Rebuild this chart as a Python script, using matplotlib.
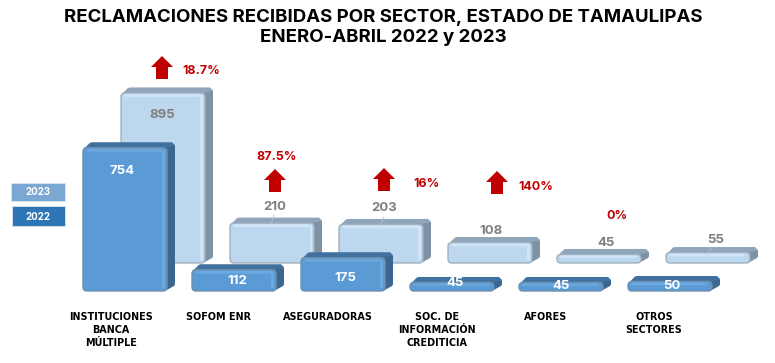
import matplotlib
matplotlib.use("Agg")
import matplotlib.pyplot as plt
from matplotlib.patches import FancyBboxPatch, Polygon, Rectangle
from matplotlib.transforms import Affine2D

plt.rcParams['font.family'] = ['Inter', 'DejaVu Sans']

W, H = 775, 363
title = "RECLAMACIONES RECIBIDAS POR SECTOR, ESTADO DE TAMAULIPAS\nENERO-ABRIL 2022 y 2023"
categories = ["INSTITUCIONES\nBANCA\nMÚLTIPLE", "SOFOM ENR", "ASEGURADORAS",
              "SOC. DE\nINFORMACIÓN\nCREDITICIA", "AFORES", "OTROS\nSECTORES"]
values_2022 = [754, 112, 175, 45, 45, 50]
values_2023 = [895, 210, 203, 108, 45, 55]
changes = ["18.7%", "87.5%", "16%", "140%", "0%", ""]

# layout (pixels from top-left)
px_t = Affine2D().scale(1, -1).translate(0, H)
X0, DX, Y0, PXV = 125, 109, 291, 0.19
BW, DEPX, DEPY = 84, 8, 5.5
SHIFT_X, SHIFT_Y = 38 / DX, 28 / PXV

lab_2022 = [(122, 171), (237, 281), (345, 278), (455, 283), (561, 286), (672, 286)]
lab_2023 = [(162, 115), (275, 207), (384, 208), (491, 231), (606, 243), (716, 240)]
lab_cat = [111, 219, 328, 437, 546, 654]
lab_pct = [(201, 71), (277, 157), (427, 184), (536, 187), (617, 216), None]
arrows = [(162, 56), (275, 169), (384, 168), (497, 171)]
leaders = [(274, 215, 271, 224), (384, 217, 380, 226), (712, 248, 706, 254)]

fig = plt.figure(figsize=(W / 100, H / 100), dpi=100)
ax = fig.add_axes([0, 0, 1, 1])
ax.set_xlim(-X0 / DX, (W - X0) / DX)
ax.set_ylim(-(H - Y0) / PXV, Y0 / PXV)
ax.axis("off")


def bar3d(i, v, dx, dy, face, hi, top, side, edge, z):
    (xl, yb) = ax.transData.transform((i + dx, dy))
    (_, yt) = ax.transData.transform((i + dx, dy + v))
    xl -= BW / 2
    xr = xl + BW
    h = yt - yb
    r = min(4, h / 2.2)
    kw = dict(transform=None, zorder=z)
    # depth faces
    ax.add_patch(Polygon([(xl + 1, yt - 1), (xl + DEPX - 1, yt + DEPY - 0.5), (xl + DEPX + 1, yt + DEPY),
                          (xr + DEPX - 3, yt + DEPY),
                          (xr + DEPX, yt + DEPY - 3), (xr, yt - 1)],
                         closed=True, fc=top, ec="none", **kw))
    ax.add_patch(Polygon([(xr - 2, yt), (xr + DEPX, yt + DEPY - 3), (xr + DEPX, yb + DEPY + 1),
                          (xr + DEPX - 1, yb + DEPY - 0.5), (xr - 2, yb)],
                         closed=True, fc=side, ec="none", **kw))
    # front face
    ax.add_patch(FancyBboxPatch((xl + r, yb + r), BW - 2 * r, h - 2 * r,
                                boxstyle=f"round,pad={r},rounding_size={r}",
                                fc=face, ec=edge, lw=1.0, **kw))
    # highlights
    band = min(3, h * 0.28)
    ax.add_patch(FancyBboxPatch((xl + 2 + band / 2, yt - 1 - band), BW - 5 - band, band,
                                boxstyle=f"round,pad=0,rounding_size={band / 2}",
                                fc=hi, ec="none", transform=None, zorder=z + 0.1))
    if h > 15:
        ax.add_patch(Rectangle((xr - 4.5, yb + 3), 2.5, h - 5, fc=hi, ec="none",
                               transform=None, zorder=z + 0.1))


for i, v in enumerate(values_2023):
    bar3d(i, v, SHIFT_X, SHIFT_Y, "#BDD7EE", "#CFE4F6", "#8FA5B9", "#7F92A5", "#9FB0BF", 2)
for i, v in enumerate(values_2022):
    bar3d(i, v, 0, 0, "#5B9BD5", "#6BA8DE", "#41729F", "#3A6690", "#6F8FAE", 3)

for x1, y1, x2, y2 in leaders:
    ax.plot([x1, x2], [y1, y2], color="#BFBFBF", lw=0.6, transform=px_t, zorder=5)

txt = dict(transform=px_t, ha="center", va="center", fontweight="bold", zorder=6)
for (x, y), v in zip(lab_2023, values_2023):
    ax.text(x, y, str(v), color="#7F7F7F", fontsize=9.5, **txt)
for (x, y), v in zip(lab_2022, values_2022):
    ax.text(x, y, str(v), color="white", fontsize=9.5, **txt)
for p, s in zip(lab_pct, changes):
    if p:
        ax.text(p[0], p[1], s, color="#C00000", fontsize=9, **txt)
for x, s in zip(lab_cat, categories):
    ax.text(x, 312, s, color="black", fontsize=6.9, fontweight="bold", ha="center", va="top",
            linespacing=1.38, family="DejaVu Sans", transform=px_t, zorder=6)

for x, y in arrows:
    ax.add_patch(Polygon([(x, y), (x + 11, y + 11), (x + 6, y + 11), (x + 6, y + 23),
                          (x - 6, y + 23), (x - 6, y + 11), (x - 11, y + 11)],
                         closed=True, fc="#C00000", ec="none", transform=px_t, zorder=6))

# legend
ax.add_patch(Rectangle((11, 183), 54, 18, fc="#7BA7D3", ec="#DCE6F1", lw=0.6, transform=px_t, zorder=4))
ax.add_patch(Rectangle((12, 206), 53, 20, fc="#2E75B6", ec="#DCE6F1", lw=0.6, transform=px_t, zorder=4))
ax.text(38, 192, "2023", color="white", fontsize=7, **txt)
ax.text(38.5, 216.5, "2022", color="white", fontsize=7, **txt)

ax.text(383, 27.5, title, color="black", fontsize=13.4, fontweight="bold", ha="center", va="center",
        linespacing=1.27, transform=px_t, zorder=6)

fig.savefig("out.png", dpi=100)
